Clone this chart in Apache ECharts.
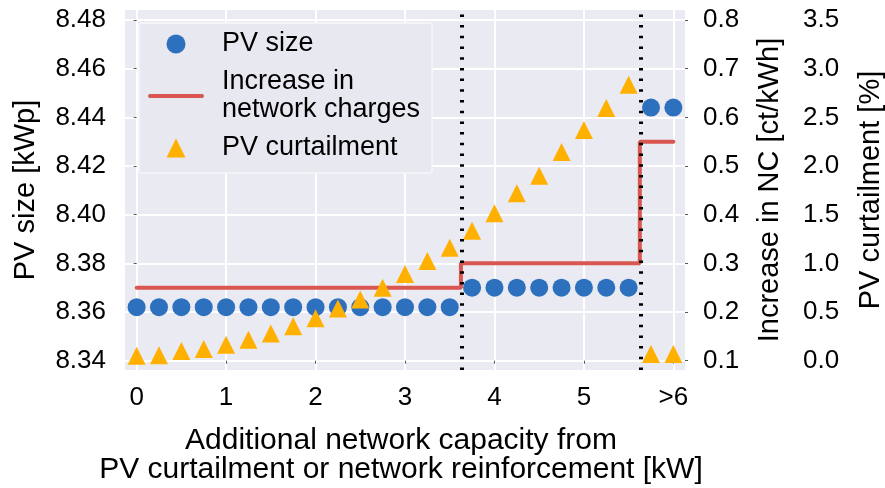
<!DOCTYPE html>
<html>
<head>
<meta charset="utf-8">
<script src="https://cdn.jsdelivr.net/npm/echarts@6/dist/echarts.min.js"></script>
<style>
  html, body { margin: 0; padding: 0; background: #ffffff; }
  #chart { width: 885px; height: 488px; }
</style>
</head>
<body>
<div id="chart"></div>
<script>
// Additional network capacity [kW]; the last point stands for ">6"
const capacity = [0, 0.25, 0.5, 0.75, 1, 1.25, 1.5, 1.75, 2, 2.25, 2.5, 2.75, 3,
                  3.25, 3.5, 3.75, 4, 4.25, 4.5, 4.75, 5, 5.25, 5.5, 5.75, 6];

// PV size [kWp]
const pvSize = [8.362, 8.362, 8.362, 8.362, 8.362, 8.362, 8.362, 8.362, 8.362, 8.362,
                8.362, 8.362, 8.362, 8.362, 8.362,
                8.370, 8.370, 8.370, 8.370, 8.370, 8.370, 8.370, 8.370,
                8.444, 8.444];

// Increase in network charges [ct/kWh]
const ncIncrease = [0.25, 0.25, 0.25, 0.25, 0.25, 0.25, 0.25, 0.25, 0.25, 0.25,
                    0.25, 0.25, 0.25, 0.25, 0.25,
                    0.30, 0.30, 0.30, 0.30, 0.30, 0.30, 0.30, 0.30,
                    0.55, 0.55];

// PV curtailment [%]
const curtailment = [0.05, 0.055, 0.10, 0.12, 0.165, 0.215, 0.28, 0.355, 0.435, 0.535,
                     0.63, 0.75, 0.89, 1.025, 1.16,
                     1.335, 1.515, 1.72, 1.90, 2.145, 2.37, 2.595, 2.835,
                     0.07, 0.07];

// x tick labels at 0..6
const xTickText = ['0', '1', '2', '3', '4', '5', '>6'];

// Region boundaries and region names
const regionBounds = [3.625, 5.625];
const regionNames = ['I', 'II', 'III'];
const regionNameX = [3.40, 4.595, 5.91];
const regionNameY = 8.4692;

const FONT = '"Liberation Sans", Arial, Helvetica, sans-serif';
const BLUE = '#2d70bd';
const RED = '#da5650';
const ORANGE = '#ffb000';

const chart = echarts.init(document.getElementById('chart'), null, { renderer: 'canvas' });

const tick = { show: true, length: 3, lineStyle: { color: '#555', width: 1 } };
const white = { show: true, showMinLine: false, showMaxLine: false,
                lineStyle: { color: '#ffffff', width: 2 } };

chart.setOption({
  animation: false,
  textStyle: { fontFamily: FONT },
  grid: { left: 125, top: 10, right: 200, bottom: 118, show: true,
          outerBoundsMode: 'none', containLabel: false,
          backgroundColor: '#eaeaf2', borderWidth: 0 },
  legend: {
    orient: 'vertical', left: 139, top: 23,
    padding: [7, 12, 11, 9], itemGap: 10, itemWidth: 56, itemHeight: 19,
    symbolKeepAspect: true,
    backgroundColor: '#e8e8f0', borderColor: '#f7f7f9', borderWidth: 1.5, borderRadius: 3,
    textStyle: { fontSize: 27, lineHeight: 28, color: '#000', fontFamily: FONT, padding: [0, 0, 0, 13] },
    data: [
      { name: 'PV size', icon: 'circle' },
      { name: 'Increase in\nnetwork charges',
        icon: 'path://M2,0 L54,0 A2,2 0 0 1 54,4 L2,4 A2,2 0 0 1 2,0 Z' },
      { name: 'PV curtailment', icon: 'path://M9,0 L18,18 L0,18 Z' }
    ]
  },
  xAxis: {
    type: 'value', min: -0.13, max: 6.13, splitNumber: 6,
    axisLine: { show: false }, axisTick: tick, splitLine: white,
    axisLabel: { fontSize: 26, color: '#000', margin: 15, showMinLabel: false, showMaxLabel: false,
                 formatter: v => xTickText[Math.round(v)] },
    name: 'Additional network capacity from\nPV curtailment or network reinforcement [kW]',
    nameLocation: 'middle', nameGap: 56,
    nameTextStyle: { fontSize: 30, lineHeight: 29, color: '#000', padding: [0, 8, 0, 0] }
  },
  yAxis: [
    {
      type: 'value', position: 'left', min: 8.3362, max: 8.4841, splitNumber: 7,
      axisLine: { show: false }, axisTick: tick, splitLine: white,
      axisLabel: { fontSize: 26, color: '#000', margin: 19, showMinLabel: false, showMaxLabel: false,
                   formatter: v => v.toFixed(2) },
      name: 'PV size [kWp]', nameLocation: 'middle', nameGap: 85,
      nameTextStyle: { fontSize: 29, color: '#000' }
    },
    {
      type: 'value', position: 'right', min: 0.0809, max: 0.8205, splitNumber: 7,
      axisLine: { show: false }, axisTick: tick, splitLine: { show: false },
      axisLabel: { fontSize: 26, color: '#000', margin: 18, showMinLabel: false, showMaxLabel: false,
                   formatter: v => v.toFixed(1) },
      name: 'Increase in NC [ct/kWh]', nameLocation: 'middle', nameGap: 70,
      nameTextStyle: { fontSize: 29, color: '#000' }
    },
    {
      type: 'value', position: 'right', offset: 100, min: -0.0955, max: 3.6027, splitNumber: 7,
      axisLine: { show: false }, axisTick: { show: false }, splitLine: { show: false },
      axisLabel: { fontSize: 26, color: '#000', margin: 18, showMinLabel: false, showMaxLabel: false,
                   formatter: v => v.toFixed(1) },
      name: 'PV curtailment [%]', nameLocation: 'middle', nameGap: 71,
      nameTextStyle: { fontSize: 29, color: '#000' }
    }
  ],
  series: [
    {
      name: 'PV size', type: 'scatter', yAxisIndex: 0, symbol: 'circle', symbolSize: 18,
      itemStyle: { color: BLUE, opacity: 1 }, z: 2,
      data: capacity.map((x, i) => [x, pvSize[i]])
    },
    {
      name: 'Increase in\nnetwork charges', type: 'line', yAxisIndex: 1, step: 'middle',
      symbol: 'none', showSymbol: false, z: 3,
      lineStyle: { color: RED, width: 4, cap: 'round' }, itemStyle: { color: RED },
      data: capacity.map((x, i) => [x, ncIncrease[i]]),
      markLine: {
        silent: true, symbol: ['none', 'none'], label: { show: false },
        lineStyle: { color: '#000', width: 4, type: [2.5, 8.2], cap: 'butt' },
        data: regionBounds.map(b => ({ xAxis: b }))
      }
    },
    {
      name: 'PV curtailment', type: 'scatter', yAxisIndex: 2, symbol: 'triangle', symbolSize: 18,
      symbolKeepAspect: true,
      itemStyle: { color: ORANGE, opacity: 1 }, z: 4,
      data: capacity.map((x, i) => [x, curtailment[i]])
    },
    {
      name: 'regions', type: 'scatter', yAxisIndex: 0, symbolSize: 1, silent: true, z: 5,
      itemStyle: { opacity: 0 },
      label: { show: true, position: 'inside', formatter: p => p.data[2],
               fontSize: 27, fontWeight: 'bold', color: '#000', fontFamily: FONT },
      data: regionNames.map((n, i) => [regionNameX[i], regionNameY, n])
    }
  ]
});
</script>
</body>
</html>
